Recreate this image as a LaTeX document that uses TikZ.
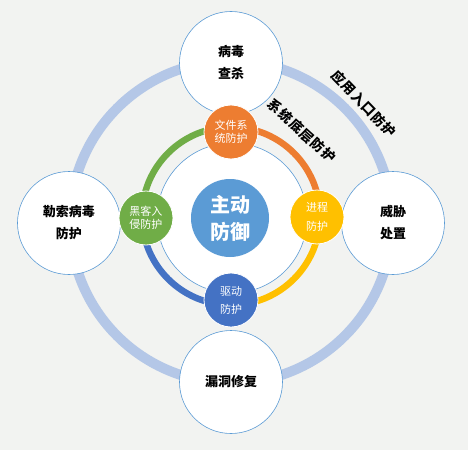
\documentclass[tikz,border=0pt]{standalone}
\usepackage{fontspec}
\newfontfamily\cjk{Noto Sans CJK SC}
\newfontfamily\cjkwide[LetterSpace=8]{Noto Sans CJK SC}
\usetikzlibrary{positioning}
\definecolor{bggray}{HTML}{F2F3F1}
\definecolor{ringblue}{HTML}{B4C7E7}
\definecolor{edgeblue}{HTML}{5B9BD5}
\definecolor{coreblue}{HTML}{5B9BD5}
\definecolor{fileorange}{HTML}{ED7D31}
\definecolor{procyellow}{HTML}{FFC000}
\definecolor{drvblue}{HTML}{4472C4}
\definecolor{hackgreen}{HTML}{70AD47}

\begin{document}
\begin{tikzpicture}[
  x=1pt, y=1pt,
  font=\cjk,
  outer/.style={circle, draw=edgeblue, line width=0.6pt, fill=white,
                minimum size=103pt, inner sep=0pt, align=center,
                font=\cjk\bfseries\fontsize{13}{22}\selectfont},
  inner/.style={circle, fill=#1, draw=white, line width=0.8pt,
                minimum size=54pt, inner sep=0pt, align=center, text=white},
  ringlabel/.style={font=\cjkwide\bfseries\fontsize{13.5}{14}\selectfont},
  arcline/.style={line width=6.5pt, draw=#1},
]
\fill[bggray] (-231,-234) rectangle (237,216);
\useasboundingbox (-231,-234) rectangle (237,216);

\draw[ringblue, line width=10pt] (0,-6) circle (161);
\node[outer] (virus) at (0,153) {病毒\\查杀};
\node[outer] (ransom) at (-162,-7) {勒索病毒\\防护};
\node[outer] (threat) at (162,-7) {威胁\\处置};
\node[outer] (patch) at (0,-166) {漏洞修复};

\draw[arcline=fileorange] (0,89) arc[start angle=90, end angle=0, radius=89];
\draw[arcline=procyellow] (89,0) arc[start angle=0, end angle=-90, radius=89];
\draw[arcline=drvblue] (0,-89) arc[start angle=-90, end angle=-180, radius=89];
\draw[arcline=hackgreen] (-89,0) arc[start angle=180, end angle=90, radius=89];
\filldraw[fill=white, draw=edgeblue, line width=0.6pt] (1,-2) circle (75);

\node[circle, fill=coreblue, minimum size=78pt, inner sep=0pt, align=center,
      text=white, font=\cjk\bfseries\fontsize{20}{27}\selectfont] (core) at (-1,-2) {主动\\防御};

\node[inner=fileorange, font=\cjk\fontsize{11}{13}\selectfont] (filesys) at (0,84) {文件系\\统防护};
\node[inner=procyellow, font=\cjk\fontsize{11}{19}\selectfont] (proc) at (86,-1) {进程\\防护};
\node[inner=drvblue, font=\cjk\fontsize{11}{18}\selectfont] (driver) at (0,-84) {驱动\\防护};
\node[inner=hackgreen, font=\cjk\fontsize{11}{13}\selectfont] (hack) at (-85,-2) {黑客入\\侵防护};

\node[ringlabel, rotate=-46] (applbl) at (133,112) {应用入口防护};
\node[ringlabel, rotate=-42] (syslbl) at (71,85) {系统底层防护};
\end{tikzpicture}
\end{document}
